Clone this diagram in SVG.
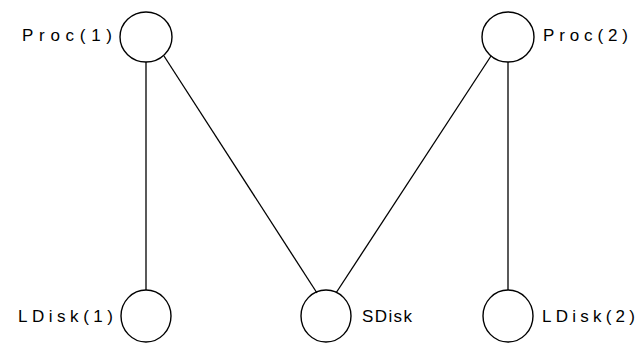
<svg xmlns="http://www.w3.org/2000/svg" width="643" height="344" viewBox="0 0 643 344">
<style>
.n{fill:none;stroke:#000;stroke-width:1.4}
.e{stroke:#000;stroke-width:1.3;fill:none}
text{font-family:"Liberation Sans",Arial,sans-serif;font-size:17px;fill:#000}
</style>
<rect width="643" height="344" fill="#fff"/>
<g id="connectors">
<line class="e" x1="146" y1="62" x2="146" y2="290"/>
<line class="e" x1="164" y1="56" x2="317" y2="293"/>
<line class="e" x1="491" y1="56" x2="336" y2="293"/>
<line class="e" x1="508" y1="62" x2="508" y2="290"/>
</g>
<g id="proc1"><ellipse class="n" cx="146" cy="37" rx="26" ry="25"/><text x="22" y="41" textLength="90" lengthAdjust="spacing">Proc(1)</text></g>
<g id="proc2"><ellipse class="n" cx="508" cy="37" rx="26" ry="25"/><text x="543" y="41" textLength="85" lengthAdjust="spacing">Proc(2)</text></g>
<g id="ldisk1"><ellipse class="n" cx="146" cy="316" rx="25" ry="26"/><text x="18" y="322" textLength="95" lengthAdjust="spacing">LDisk(1)</text></g>
<g id="sdisk"><ellipse class="n" cx="326" cy="316" rx="25" ry="26"/><text x="362" y="322" textLength="50" lengthAdjust="spacing">SDisk</text></g>
<g id="ldisk2"><ellipse class="n" cx="508" cy="316" rx="25" ry="26"/><text x="542" y="322" textLength="93" lengthAdjust="spacing">LDisk(2)</text></g>
</svg>
